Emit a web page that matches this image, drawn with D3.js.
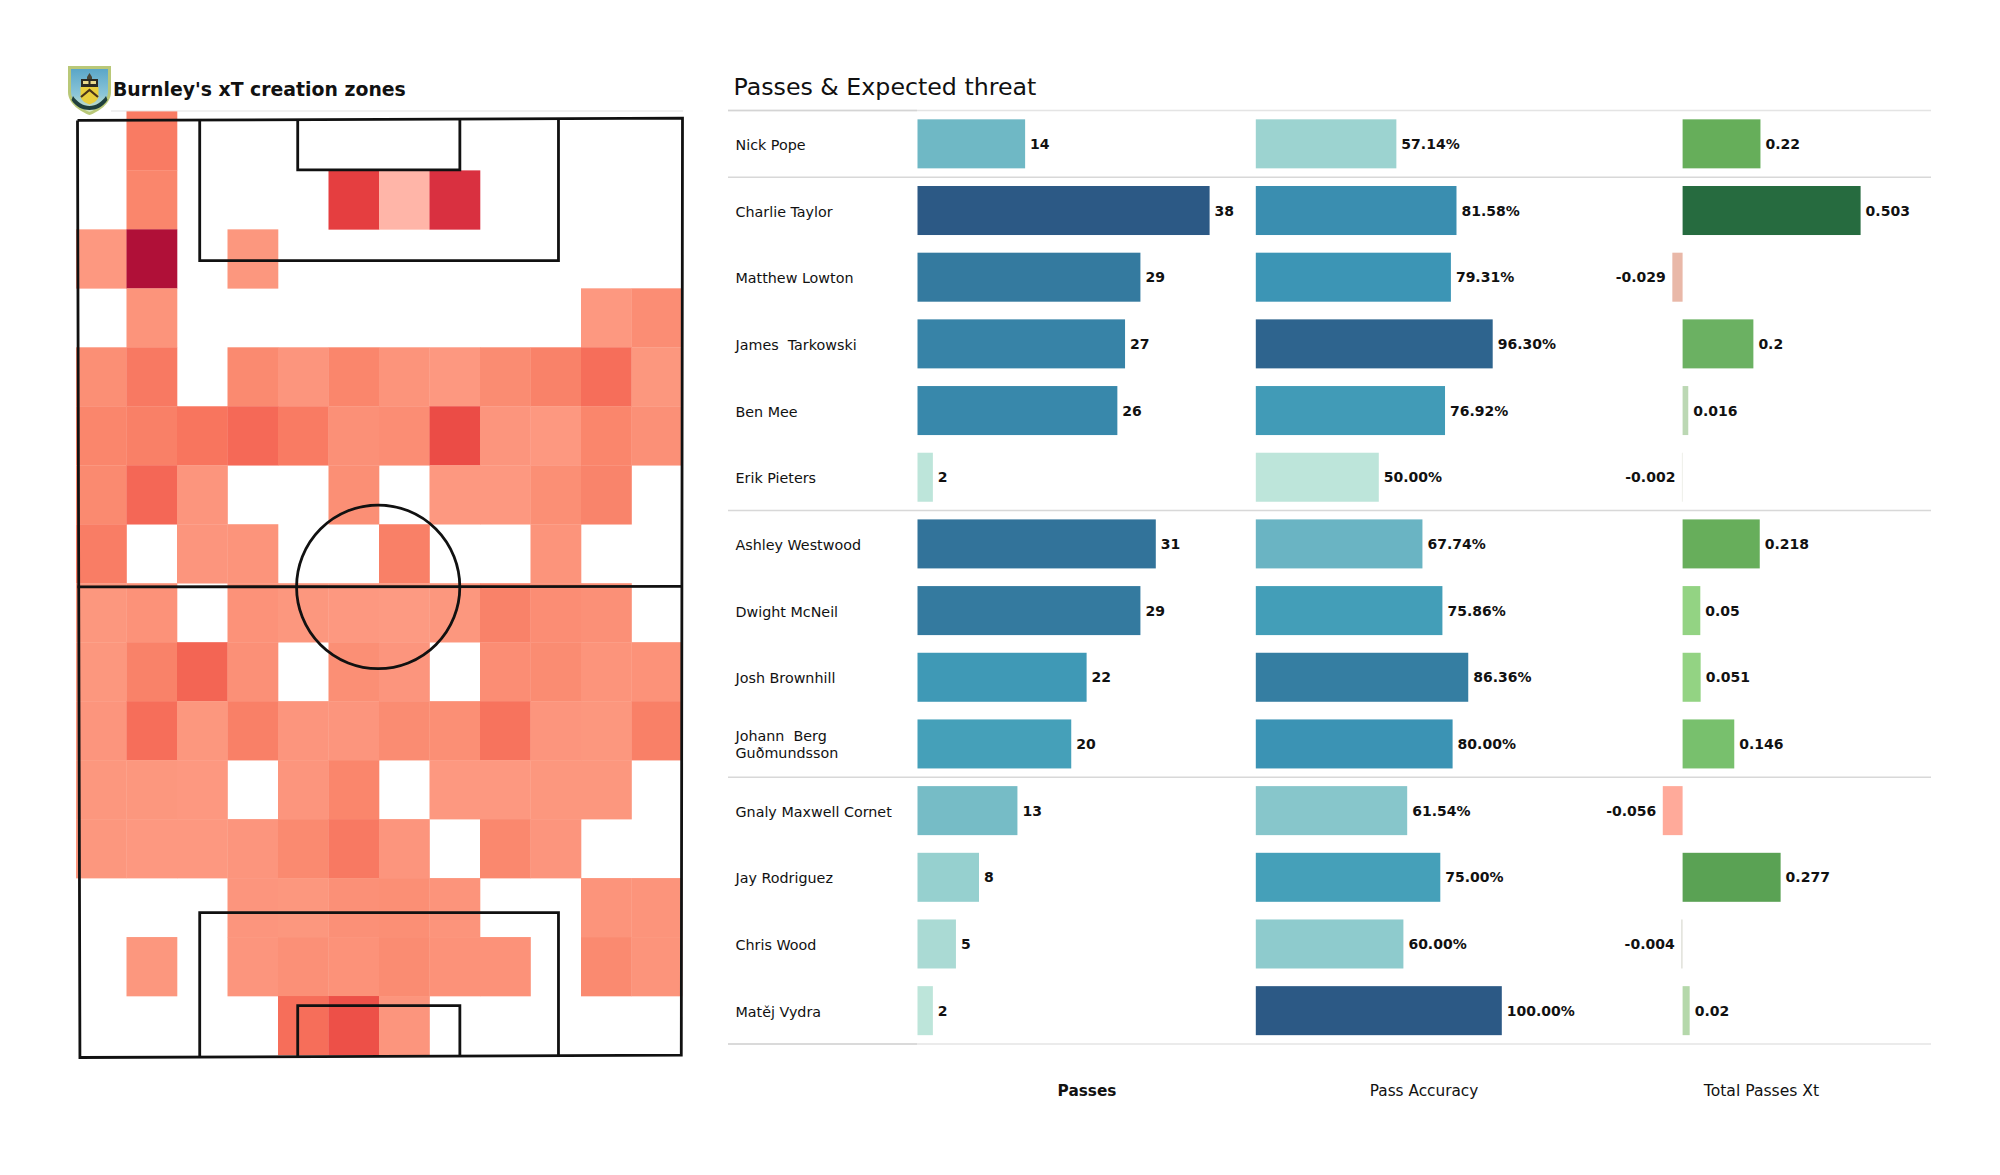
<!DOCTYPE html>
<html><head><meta charset="utf-8">
<script src="https://cdn.jsdelivr.net/npm/d3@7/dist/d3.min.js"></script>
<style>
html,body{margin:0;padding:0;background:#fff}
svg{display:block}
text{font-family:"DejaVu Sans",sans-serif;fill:#111;white-space:pre}
</style></head><body>
<svg id="c" width="2000" height="1175" xmlns="http://www.w3.org/2000/svg"></svg>
<script>
// ---------- data ----------
const players = ["Nick Pope","Charlie Taylor","Matthew Lowton","James  Tarkowski","Ben Mee","Erik Pieters","Ashley Westwood","Dwight McNeil","Josh Brownhill","Johann  Berg\nGuðmundsson","Gnaly Maxwell Cornet","Jay Rodriguez","Chris Wood","Matěj Vydra"];
const passes = [14,38,29,27,26,2,31,29,22,20,13,8,5,2];
const accuracy = [57.14,81.58,79.31,96.30,76.92,50.00,67.74,75.86,86.36,80.00,61.54,75.00,60.00,100.00];
const xT = [0.22,0.503,-0.029,0.2,0.016,-0.002,0.218,0.05,0.051,0.146,-0.056,0.277,-0.004,0.02];
const groupBreaks = [0,1,6,10,14];
const columnTitles = ["Passes","Pass Accuracy","Total Passes Xt"];
const heat = [
[0,.27,0,0,0,0,0,0,0,0,0,0],
[0,.22,0,0,0,.62,.03,.72,0,0,0,0],
[.11,1,0,.12,0,0,0,0,0,0,0,0],
[0,.14,0,0,0,0,0,0,0,0,.11,.18],
[.17,.28,0,.2,.13,.22,.14,.11,.19,.24,.33,.12],
[.22,.25,.3,.35,.27,.16,.18,.5,.13,.11,.22,.16],
[.2,.36,.13,0,0,.17,0,.11,.11,.17,.23,0],
[.26,0,.13,.14,0,0,.25,0,0,.14,0,0],
[.12,.15,0,.15,.12,.11,.1,.12,.24,.18,.16,0],
[.12,.24,.37,.16,0,.17,.13,0,.18,.19,.14,.15],
[.13,.33,.12,.25,.13,.13,.19,.17,.31,.13,.12,.25],
[.12,.12,.11,0,.13,.22,0,.11,.11,.12,.12,0],
[.12,.11,.11,.13,.2,.28,.13,0,.21,.13,0,0],
[0,0,0,.13,.12,.16,.17,.14,0,0,.14,.14],
[0,.12,0,.13,.16,.15,.19,.15,.15,0,.2,.14],
[0,0,0,0,.33,.47,.13,0,0,0,0,0]];
// pitch markings in pitch units (0-100 both ways)
const pitchOutline = [[0,.05],[100,-.2],[99.8,99.75],[.4,100],[0,.05]];
const pitchTopBox = [[20.2,-.1],[20.2,15],[79.5,15],[79.5,-.1]];
const pitchTopSix = [[36.4,-.1],[36.4,5.33],[63.2,5.33],[63.2,-.1]];
const pitchBottomBox = [[20.2,99.9],[20.2,84.55],[79.5,84.55],[79.5,99.9]];
const pitchBottomSix = [[36.4,99.9],[36.4,94.47],[63.2,94.47],[63.2,99.9]];
const pitchHalfway = [[0,49.8],[100,49.75]];

// ---------- scales ----------
const svg = d3.select("#c");
const heatColor = d3.scaleLinear()
  .domain([.03,.1,.2,.3,.45,.62,.72,1])
  .range(["#ffb5a8","#fd9a82","#fa8a70","#f8755e","#ee5249","#e53e40","#d93040","#b01038"]);
const gx = d3.scaleBand().domain(d3.range(12)).range([76,682]);
const gy = d3.scaleBand().domain(d3.range(16)).range([111.4,1055]);
const px = d3.scaleLinear().domain([0,100]).range([77.5,682.5]);
const py = d3.scaleLinear().domain([0,100]).range([120,1057.5]);

const ramp = d3.scaleLinear()
  .domain([0,.15,.33,.5,.6,.75,.93,1])
  .range(["#bde5da","#9ad2d0","#70b8c5","#45a0b9","#3b93b4","#347a9f","#2e638e","#2c5985"]);
const xTColor = d3.scaleLinear()
  .domain([-.056,-.029,-.004,-.002,.016,.02,.05,.146,.2,.22,.277,.503])
  .range(["#ffaa9a","#e9b8a8","#dfe0d8","#e6e8e0","#bcd8b4","#b5d8ab","#93d383","#78c06d","#6bb162","#66ae5a","#5aa254","#266b3f"]);
const yBand = d3.scaleBand().domain(d3.range(players.length)).range([110.5,1044]).paddingInner(.265).paddingOuter(.1325);
const xPass = d3.scaleLinear().domain([0,38]).range([917.5,1209.6]);
const xAcc = d3.scaleLinear().domain([0,100]).range([1255.8,1501.8]);
const xXT = d3.scaleLinear().domain([0,.503]).range([1682.6,1860.6]);
const tPass = d3.scaleLinear().domain(d3.extent(passes)).range([0,1]);
const tAcc = d3.scaleLinear().domain(d3.extent(accuracy)).range([0,1]);

// ---------- left panel ----------
svg.append("line").attr("x1",111).attr("x2",683).attr("y1",111).attr("y2",111).attr("stroke","#e2e2e2").attr("stroke-width",1.2);

heat.forEach((row,r)=>row.forEach((v,c)=>{
  if(!v) return;
  svg.append("rect").attr("x",gx(c)).attr("y",gy(r)).attr("width",gx.bandwidth()+.3).attr("height",gy.bandwidth()+.3).attr("fill",heatColor(v));
}));

const pitch = svg.append("g").attr("fill","none").attr("stroke","#111").attr("stroke-width",2.8);
const pline = d3.line().x(d=>px(d[0])).y(d=>py(d[1]));
[pitchOutline,pitchTopBox,pitchTopSix,pitchBottomBox,pitchBottomSix,pitchHalfway].forEach(p=>pitch.append("path").attr("d",pline(p)));
pitch.append("ellipse").attr("cx",px(49.7)).attr("cy",py(49.8)).attr("rx",px(13.49)-px(0)).attr("ry",py(8.73)-py(0));

// crest
const crest = svg.append("g").attr("transform","translate(68,66)");
const defs = svg.append("defs");
const lg = defs.append("linearGradient").attr("id","sky").attr("x1",0).attr("x2",0).attr("y1",0).attr("y2",1);
lg.append("stop").attr("offset","0").attr("stop-color","#5aa6c8");
lg.append("stop").attr("offset",".6").attr("stop-color","#8cc6d8");
lg.append("stop").attr("offset","1").attr("stop-color","#d6e6c0");
crest.append("path").attr("d","M0 0H43V26C43 38 30 46 21.5 49C13 46 0 38 0 26Z").attr("fill","#b9c878");
crest.append("path").attr("d","M3 3H40V26C40 36 29 43 21.5 46C14 43 3 36 3 26Z").attr("fill","url(#sky)");
crest.append("path").attr("d","M19 11L21.5 7L24 11V13H19Z").attr("fill","#4a4636");
crest.append("rect").attr("x",13).attr("y",13).attr("width",17).attr("height",8).attr("fill","#2b2a22");
crest.append("rect").attr("x",15).attr("y",15).attr("width",5.5).attr("height",3).attr("fill","#e8d98a");
crest.append("rect").attr("x",22.5).attr("y",15).attr("width",5.5).attr("height",3).attr("fill","#e8d98a");
crest.append("path").attr("d","M12.5 21H30.5V30C30.5 34 26 37 21.5 38.5C17 37 12.5 34 12.5 30Z").attr("fill","#e9cf3e");
crest.append("path").attr("d","M13 31L21.5 24L30 31").attr("fill","none").attr("stroke","#4a3418").attr("stroke-width",2.2);
crest.append("path").attr("d","M5 30C9 36 15 40 21.5 40C28 40 34 36 38 30L39.5 34C35 41 28 44 21.5 44C15 44 8 41 3.5 34Z").attr("fill","#1f3f3c");

svg.append("text").attr("x",113).attr("y",95.5).attr("font-size",18.85).attr("font-weight","bold").text("Burnley's xT creation zones");

// ---------- right panel ----------
svg.append("text").attr("x",733.5).attr("y",94.7).attr("font-size",23.7).text("Passes & Expected threat");

groupBreaks.forEach((b,i)=>{
  const y = 110.5 + b*yBand.step();
  svg.append("line").attr("x1",728).attr("x2",1931).attr("y1",y).attr("y2",y).attr("stroke",i>=1&&i<=3?"#d8d8d8":"#e4e4e4").attr("stroke-width",1.6);
  if(i===0||i===4) svg.append("line").attr("x1",728).attr("x2",917).attr("y1",y).attr("y2",y).attr("stroke","#d4d4d4").attr("stroke-width",1.6);
});

players.forEach((name,i)=>{
  const y = yBand(i), h = yBand.bandwidth(), cy = y+h/2;
  const lines = name.split("\n");
  lines.forEach((l,k)=>{
    svg.append("text").attr("x",735.5).attr("y",cy+6+(k-(lines.length-1)/2)*17).attr("font-size",14.3).text(l);
  });
  svg.append("rect").attr("x",xPass(0)).attr("y",y).attr("width",xPass(passes[i])-xPass(0)).attr("height",h).attr("fill",ramp(tPass(passes[i])));
  svg.append("text").attr("x",xPass(passes[i])+5).attr("y",cy+5).attr("font-size",14).attr("font-weight","bold").text(passes[i]);
  svg.append("rect").attr("x",xAcc(0)).attr("y",y).attr("width",xAcc(accuracy[i])-xAcc(0)).attr("height",h).attr("fill",ramp(tAcc(accuracy[i])));
  svg.append("text").attr("x",xAcc(accuracy[i])+5).attr("y",cy+5).attr("font-size",14).attr("font-weight","bold").text(accuracy[i].toFixed(2)+"%");
  const v = xT[i], x0 = Math.min(xXT(0),xXT(v)), w = Math.abs(xXT(v)-xXT(0));
  svg.append("rect").attr("x",x0).attr("y",y).attr("width",w).attr("height",h).attr("fill",xTColor(v));
  svg.append("text").attr("x",v<0?x0-6.5:xXT(v)+5).attr("y",cy+5).attr("text-anchor",v<0?"end":"start").attr("font-size",14).attr("font-weight","bold").text(v);
});

[1087,1424,1761.5].forEach((x,i)=>{
  svg.append("text").attr("x",x).attr("y",1095.5).attr("text-anchor","middle").attr("font-size",i===2?15.6:15.3).attr("font-weight",i===0?"bold":"normal").text(columnTitles[i]);
});
</script>
</body></html>
